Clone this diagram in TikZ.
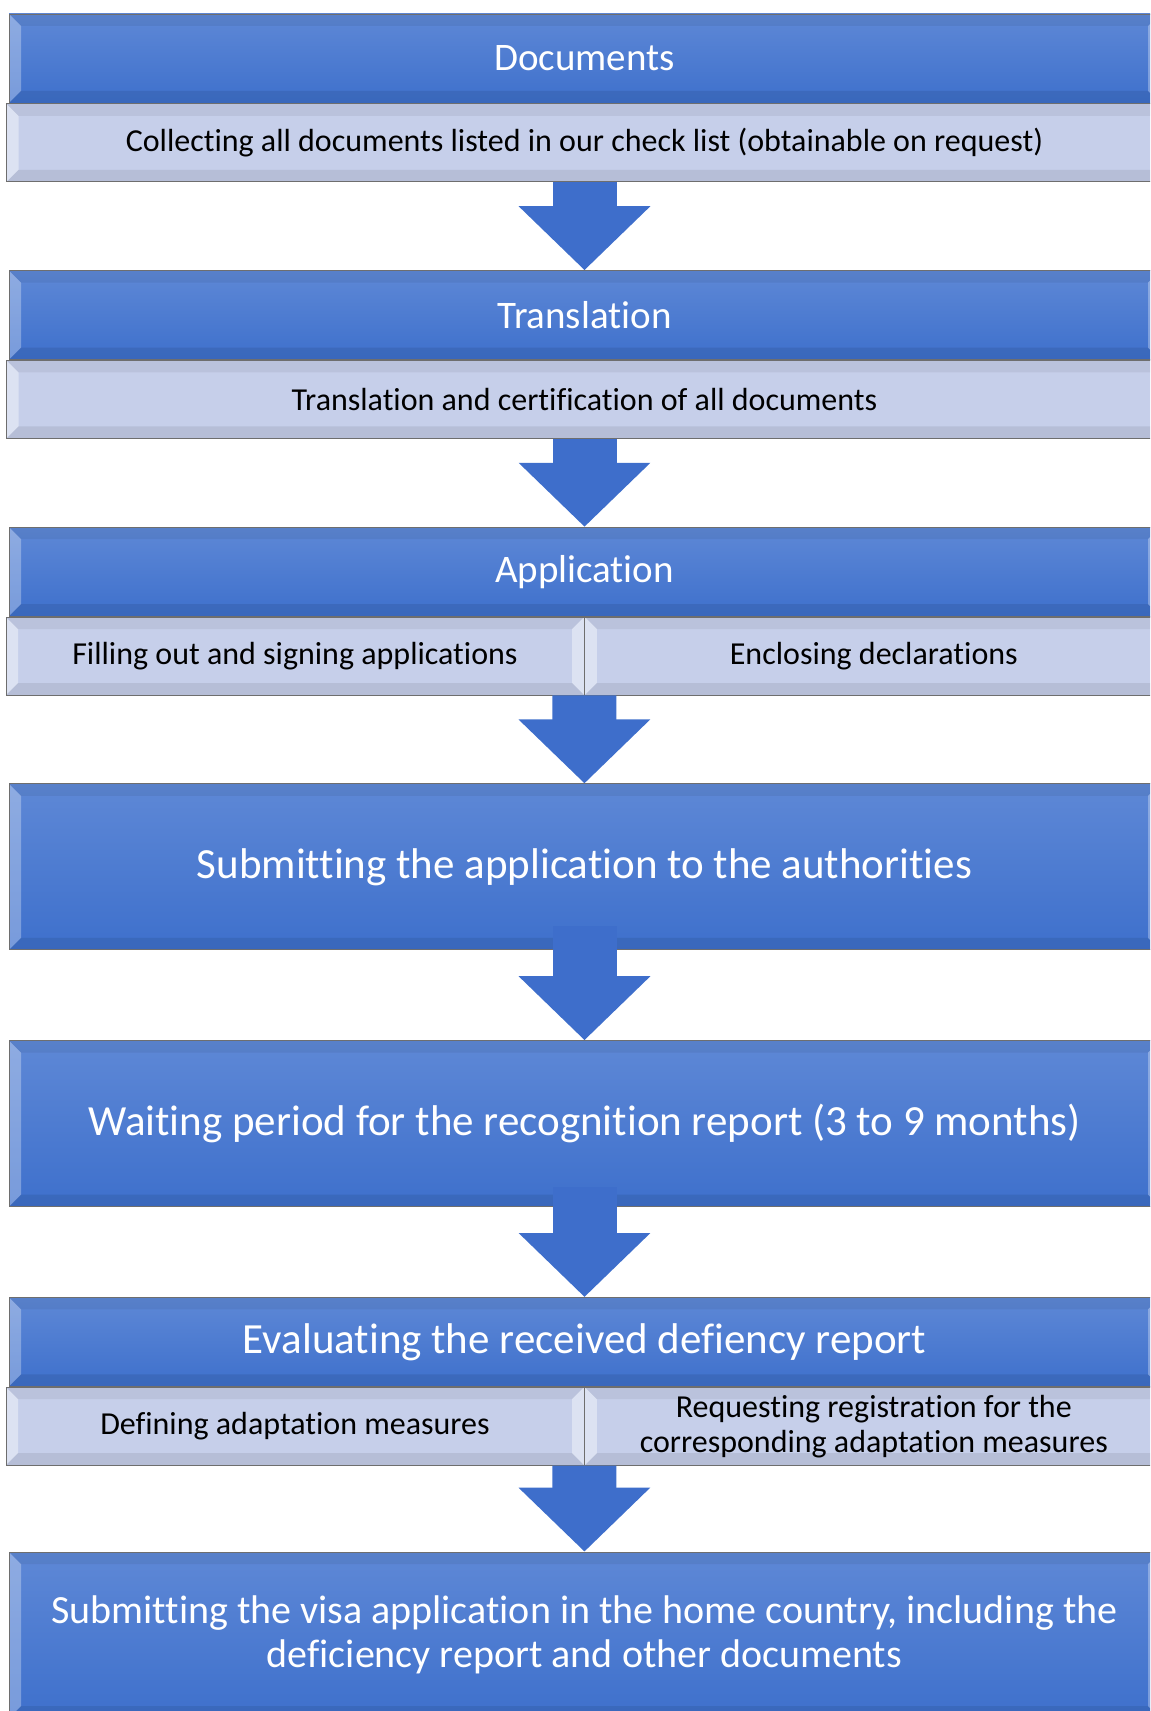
\documentclass[tikz,border=0pt]{standalone}
\usepackage{fontspec}
\setmainfont{Carlito}[RawFeature={-liga}]
\usetikzlibrary{positioning,arrows.meta}

\definecolor{headtop}{RGB}{94,136,214}
\definecolor{headbot}{RGB}{62,112,204}
\definecolor{subfill}{RGB}{198,207,234}
\definecolor{boxline}{RGB}{110,110,110}
\definecolor{arrowblue}{RGB}{62,110,203}

\begin{document}
\begin{tikzpicture}[%
	x=0.5pt,
	y=-0.5pt,
	node distance=44pt,
	every text node part/.style={align=center},
	bevel/.style={%
		path picture={%
			\fill[white,opacity=#1]
				(path picture bounding box.north west) -- (path picture bounding box.south west)
				-- ([shift={(6pt,6pt)}]path picture bounding box.south west)
				-- ([shift={(6pt,-6pt)}]path picture bounding box.north west) -- cycle;
			\fill[white,opacity=#1]
				(path picture bounding box.north east) -- (path picture bounding box.south east)
				-- ([shift={(-6pt,6pt)}]path picture bounding box.south east)
				-- ([shift={(-6pt,-6pt)}]path picture bounding box.north east) -- cycle;
			\fill[black,opacity=0.06]
				(path picture bounding box.north west) -- (path picture bounding box.north east)
				-- ([shift={(-6pt,-6pt)}]path picture bounding box.north east)
				-- ([shift={(6pt,-6pt)}]path picture bounding box.north west) -- cycle;
			\fill[black,opacity=0.08]
				(path picture bounding box.south west) -- (path picture bounding box.south east)
				-- ([shift={(-6pt,6pt)}]path picture bounding box.south east)
				-- ([shift={(6pt,6pt)}]path picture bounding box.south west) -- cycle;
		}
	},
	head/.style={%
		rectangle,
		draw=boxline,
		top color=headtop,
		bottom color=headbot,
		minimum width=575.5pt,
		minimum height=44.5pt,
		inner sep=0pt,
		text=white,
		font=\fontsize{19.5}{21}\selectfont,
		bevel=0.3
	},
	big/.style={%
		head,
		minimum height=83pt,
		font=\fontsize{21.5}{22}\selectfont
	},
	sub/.style={%
		rectangle,
		draw=boxline,
		fill=subfill,
		minimum width=578pt,
		minimum height=39pt,
		inner sep=0pt,
		text=black,
		font=\fontsize{16}{17.5}\selectfont,
		bevel=0.4
	},
	flow/.style={%
		draw=arrowblue,
		line width=32pt,
		-{Triangle[width=64pt,length=32pt]}
	}
	]

	\clip (0,0) rectangle (1150,1711);

	\node[head] (docs) at (584.5,58.5) {Documents};
	\node[sub] (docsub) [below=0pt of docs] {Collecting all documents listed in our check list (obtainable on request)};

	\node[head] (trans) [below=of docsub] {Translation};
	\node[sub] (transsub) [below=0pt of trans] {Translation and certification of all documents};

	\node[head] (app) [below=of transsub] {Application};
	\node[sub,minimum width=289pt,anchor=north west] (appleft) at ([xshift=-1.5pt]app.south west) {Filling out and signing applications};
	\node[sub,minimum width=289pt] (appright) [right=0pt of appleft] {Enclosing declarations};

	\node[big,anchor=north] (submit) at ([yshift=-44pt]app.south |- appleft.south) {Submitting the application to the authorities};
	\node[big] (wait) [below=45pt of submit] {Waiting period for the recognition report (3 to 9 months)};

	\node[head,font=\fontsize{21.5}{22}\selectfont] (eval) [below=45pt of wait] {Evaluating the received defiency report};
	\node[sub,minimum width=289pt,anchor=north west] (evalleft) at ([xshift=-1.5pt]eval.south west) {Defining adaptation measures};
	\node[sub,minimum width=289pt] (evalright) [right=0pt of evalleft] {Requesting registration for the\\corresponding adaptation measures};

	\node[big,anchor=north,font=\fontsize{20}{22}\selectfont] (visa) at ([yshift=-43pt]eval.south |- evalleft.south) {Submitting the visa application in the home country, including the\\deficiency report and other documents};

	\draw[flow] (docsub) -- (trans);
	\draw[flow] (transsub) -- (app);
	\draw[flow] (appleft.south east) -- (submit);
	\draw[flow] ([yshift=12pt]submit.south) -- (wait);
	\draw[flow] ([yshift=10pt]wait.south) -- (eval);
	\draw[flow] (evalleft.south east) -- (visa);
\end{tikzpicture}
\end{document}
